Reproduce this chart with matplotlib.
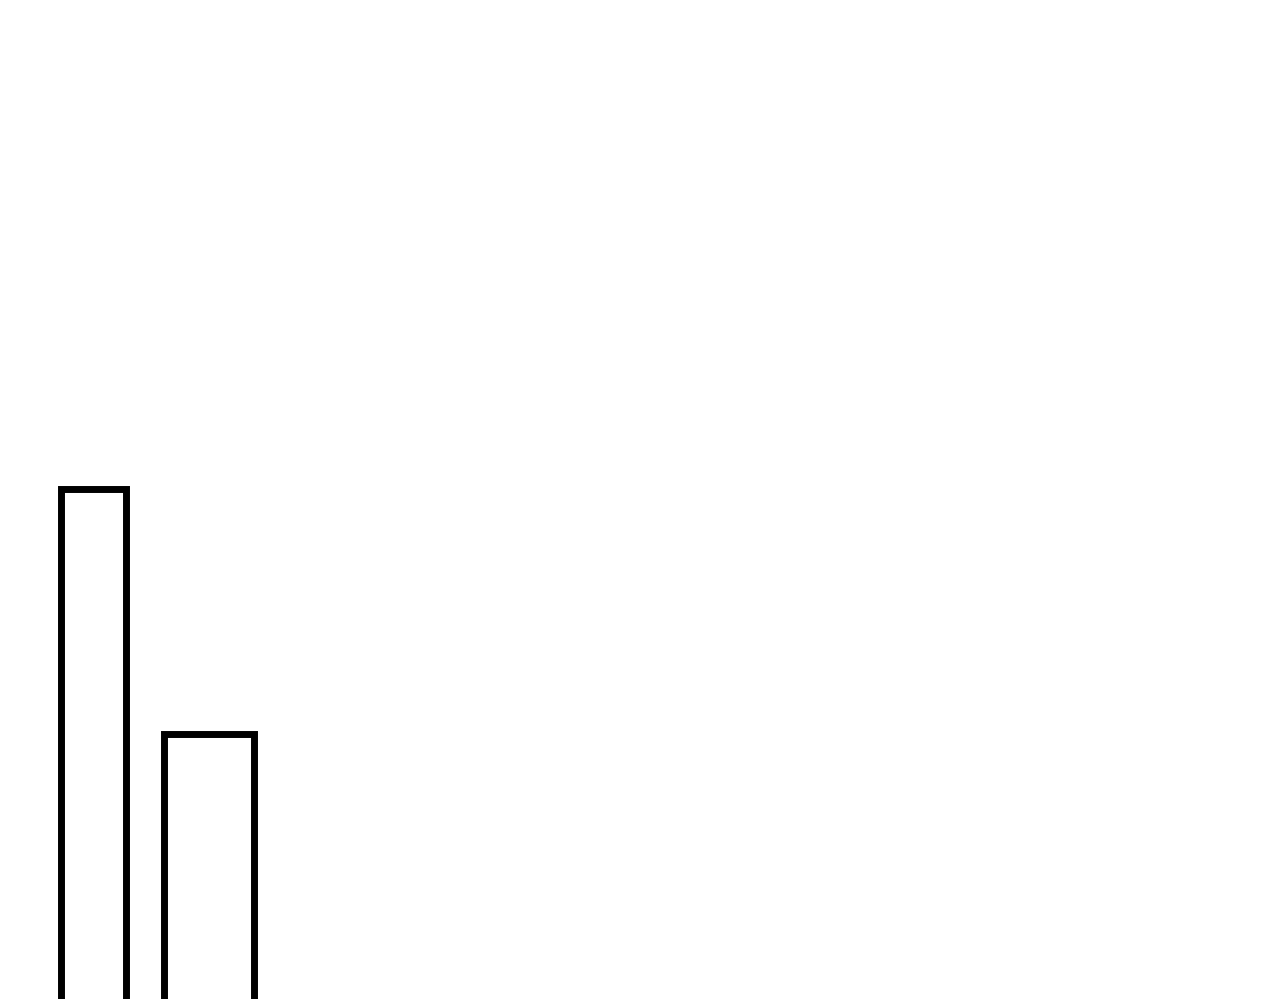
import matplotlib
matplotlib.use("Agg")
import matplotlib.pyplot as plt

# bar data (arbitrary units)
positions = [0.937, 2.088]
widths = [0.645, 0.905]
values = [53.1, 28.5]

fig = plt.figure(figsize=(12.8, 9.99), dpi=100)
ax = fig.add_axes([0, 0, 1, 1])
bars = ax.bar(positions, values, width=widths, bottom=-2,
              facecolor='none', edgecolor='black', linewidth=5.0)
for b in bars:
    b.set_joinstyle('miter')

ax.set_xlim(0, 12.8)
ax.set_ylim(0, 100)
ax.axis('off')

fig.savefig('out.png', dpi=100, facecolor='white')
